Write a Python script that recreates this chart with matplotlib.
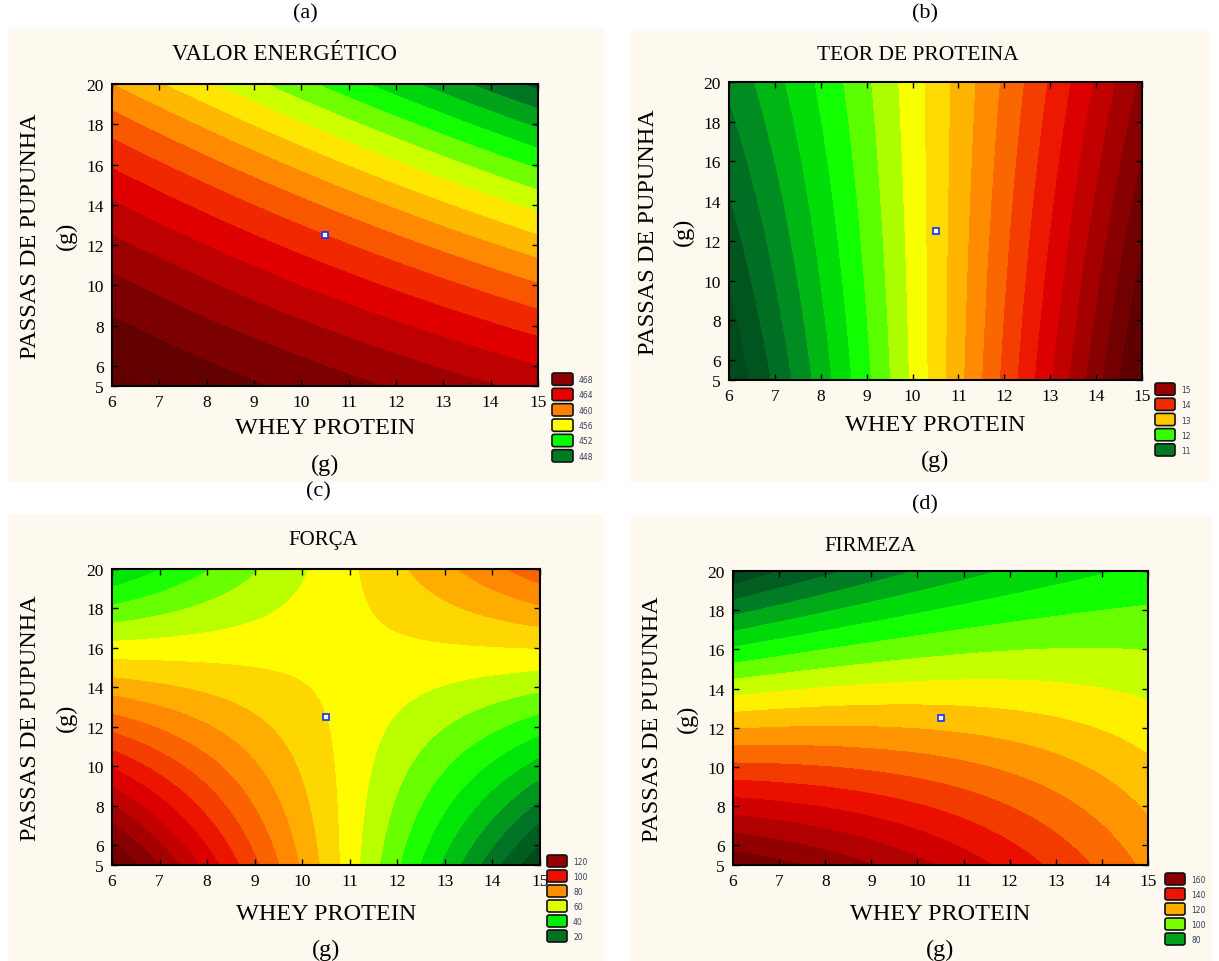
import numpy as np
import matplotlib
matplotlib.use("Agg")
import matplotlib.pyplot as plt
from matplotlib.colors import LinearSegmentedColormap, Normalize
from matplotlib.patches import Rectangle, FancyBboxPatch

# factor ranges (g) and centre point of the design
WHEY_RANGE = [6, 15]
PASSAS_RANGE = [5, 20]
CENTER = [10.5, 12.5]

# response-surface coefficients in coded units: b0, b1, b2, b11, b22, b12
VALOR_COEF = [462.0, -4.5, -8.0, 0.0, -1.25, -1.75]
PROTEINA_COEF = [12.85, 2.4, 0.0, 0.2, 0.0, -0.4]
FORCA_COEF = [66.0, -19.0, -4.0, 0.0, 0.0, 45.0]
FIRMEZA_COEF = [117.0, -3.0, -34.75, -4.0, -2.25, 18.25]

VALOR_LEGEND = [468, 464, 460, 456, 452, 448]
PROTEINA_LEGEND = [15, 14, 13, 12, 11]
FORCA_LEGEND = [120, 100, 80, 60, 40, 20]
FIRMEZA_LEGEND = [160, 140, 120, 100, 80]

TITLES = ["VALOR ENERGÉTICO", "TEOR DE PROTEINA", "FORÇA", "FIRMEZA"]
LETTERS = ["(a)", "(b)", "(c)", "(d)"]

W, H = 1219, 962
CREAM = "#fef9ef"
SERIF = "Liberation Serif"

spectrum = LinearSegmentedColormap.from_list(
    "statistica",
    [(0.00, "#004a1c"), (0.10, "#007a25"), (0.26, "#00ff00"), (0.42, "#ffff00"),
     (0.58, "#ff8000"), (0.74, "#e80000"), (0.90, "#8c0000"), (1.00, "#600000")],
)


def frac(x0, y0, x1, y1):
    return [x0 / W, 1 - y1 / H, (x1 - x0) / W, (y1 - y0) / H]


def surface(coef, w, p):
    b0, b1, b2, b11, b22, b12 = coef
    x1 = (w - CENTER[0]) / 4.5
    x2 = (p - CENTER[1]) / 7.5
    return b0 + b1 * x1 + b2 * x2 + b11 * x1 ** 2 + b22 * x2 ** 2 + b12 * x1 * x2


panels = [
    dict(coef=VALOR_COEF, legend=VALOR_LEGEND, step=1.5, t=(0.10, 0.90),
         cream=(8, 30, 603, 483), ax=(112, 85, 538, 387), title=(285, 55, 16.5),
         box=(552, 373, 573, 465), letter=(305, 14), xlab=(42, 78)),
    dict(coef=PROTEINA_COEF, legend=PROTEINA_LEGEND, step=0.25, t=(0.10, 0.88),
         cream=(630, 32, 1210, 483), ax=(729, 83, 1142, 381), title=(918, 55, 15.5),
         box=(1155, 383, 1175, 459), letter=(925, 14), xlab=(45, 80)),
    dict(coef=FORCA_COEF, legend=FORCA_LEGEND, step=6.0, t=(0.08, 0.88),
         cream=(8, 515, 603, 962), ax=(112, 570, 540, 866), title=(323, 540, 15),
         box=(547, 855, 567, 945), letter=(318, 492), xlab=(49, 84)),
    dict(coef=FIRMEZA_COEF, legend=FIRMEZA_LEGEND, step=6.0, t=(0.15, 0.90),
         cream=(630, 518, 1212, 962), ax=(733, 572, 1148, 866), title=(870, 547, 15),
         box=(1165, 873, 1185, 948), letter=(925, 505), xlab=(49, 84)),
]

fig = plt.figure(figsize=(W / 100, H / 100), dpi=100, facecolor="white")

ww = np.linspace(WHEY_RANGE[0], WHEY_RANGE[1], 300)
pp = np.linspace(PASSAS_RANGE[0], PASSAS_RANGE[1], 300)
WW, PP = np.meshgrid(ww, pp)

for i, spec in enumerate(panels):
    cx0, cy0, cx1, cy1 = spec["cream"]
    fig.patches.append(Rectangle((cx0 / W, 1 - cy1 / H), (cx1 - cx0) / W, (cy1 - cy0) / H,
                                 transform=fig.transFigure, facecolor=CREAM,
                                 edgecolor="none", zorder=-5))
    lx, ly = spec["letter"]
    fig.text(lx / W, 1 - ly / H, LETTERS[i], family=SERIF, fontsize=16,
             ha="center", va="center")
    tx, ty, tsize = spec["title"]
    fig.text(tx / W, 1 - ty / H, TITLES[i], family=SERIF, fontsize=tsize,
             ha="center", va="center")

    ax = fig.add_axes(frac(*spec["ax"]))
    ax.set_zorder(2)
    zz = surface(spec["coef"], WW, PP)
    leg = spec["legend"]
    lo, hi = min(leg), max(leg)
    t0, t1 = spec["t"]
    span = (hi - lo) / (t1 - t0)
    norm = Normalize(vmin=lo - t0 * span, vmax=lo - t0 * span + span, clip=True)
    levels = np.arange(np.floor(zz.min() / spec["step"]) * spec["step"],
                       zz.max() + spec["step"], spec["step"])
    ax.contourf(WW, PP, zz, levels=levels, cmap=spectrum, norm=norm)
    ax.plot(CENTER[0], CENTER[1], marker="s", ms=4, mfc="white", mec="#1030ff", mew=1.2)

    ax.set_xlim(WHEY_RANGE)
    ax.set_ylim(PASSAS_RANGE)
    ax.set_xticks(range(6, 16))
    ax.set_yticks([5] + list(range(6, 21, 2)))
    ax.tick_params(direction="in", length=4, width=1, top=True, right=True,
                   labelsize=12.5, pad=6)
    for lab in ax.get_xticklabels() + ax.get_yticklabels():
        lab.set_family(SERIF)
    for s in ax.spines.values():
        s.set_linewidth(1.5)

    axx0, axy0, axx1, axy1 = spec["ax"]
    d1, d2 = spec["xlab"]
    fig.text((axx0 + axx1) / 2 / W, 1 - (axy1 + d1) / H, "WHEY PROTEIN",
             family=SERIF, fontsize=17.5, ha="center", va="center")
    fig.text((axx0 + axx1) / 2 / W, 1 - (axy1 + d2) / H, "(g)",
             family=SERIF, fontsize=17.5, ha="center", va="center")
    fig.text((axx0 - 81) / W, 1 - (axy0 + axy1) / 2 / H, "PASSAS DE PUPUNHA",
             family=SERIF, fontsize=17.5, rotation=90, ha="center", va="center")
    fig.text((axx0 - 46) / W, 1 - (axy0 + axy1) / 2 / H, "(g)",
             family=SERIF, fontsize=17.5, rotation=90, ha="center", va="center")

    # legend swatches
    bx0, by0, bx1, by1 = spec["box"]
    n = len(leg)
    pitch = (by1 - by0) / n
    for k, v in enumerate(leg):
        top = by0 + k * pitch + 1
        fig.patches.append(FancyBboxPatch(
            (bx0 / W, 1 - (top + pitch - 3) / H), (bx1 - bx0) / W, (pitch - 3) / H,
            boxstyle="round,pad=0,rounding_size=0.002", transform=fig.transFigure,
            facecolor=spectrum(norm(v)), edgecolor="#111111", linewidth=1.2, zorder=3))
        fig.text((bx1 + 6) / W, 1 - (top + pitch / 2 - 1) / H, str(v),
                 fontsize=5.5, color="#30405a", ha="left", va="center")

fig.savefig("out.png", dpi=100, facecolor="white")
